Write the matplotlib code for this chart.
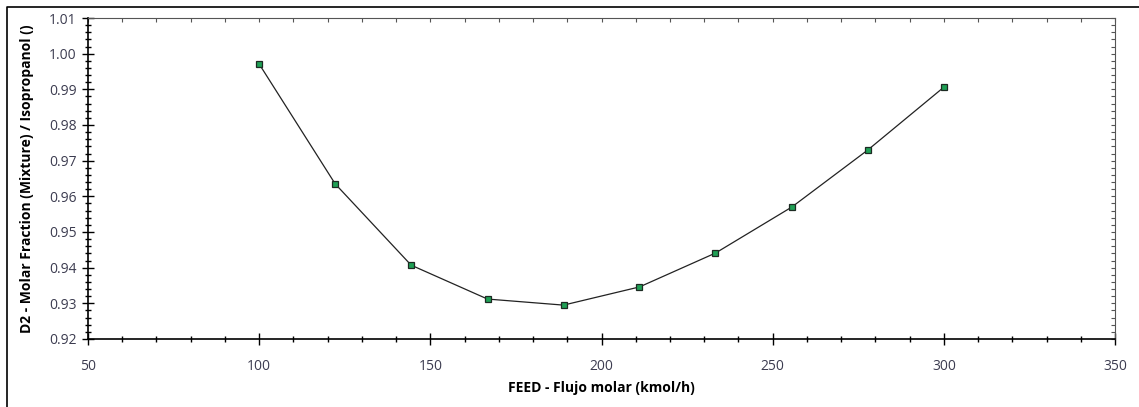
import matplotlib
matplotlib.use('Agg')
import matplotlib.pyplot as plt
from matplotlib.ticker import MultipleLocator
from matplotlib.lines import Line2D

# data
feed_flow = [100.0, 122.2, 144.4, 166.7, 188.9, 211.1, 233.3, 255.6, 277.8, 300.0]
d2_isopropanol = [0.9971, 0.9635, 0.9407, 0.9312, 0.9295, 0.9346, 0.9441, 0.9570, 0.9730, 0.9906]

x_label = 'FEED - Flujo molar (kmol/h)'
y_label = 'D2 - Molar Fraction (Mixture) / Isopropanol ()'

plt.rcParams['font.family'] = ['Open Sans', 'DejaVu Sans']

fig = plt.figure(figsize=(11.39, 4.07), dpi=100)
ax = fig.add_axes([88 / 1139, 1 - 339 / 407, (1115 - 88) / 1139, (339 - 18) / 407])

# left and top edge of the plot window
fx, fy = 6.5 / 1139, 1 - 6.5 / 407
fig.add_artist(Line2D([fx, fx, 1], [0, fy, fy], transform=fig.transFigure,
                      color='black', linewidth=1.2))

ax.plot(feed_flow, d2_isopropanol, color='#222222', linewidth=0.9,
        marker='s', markersize=4.5, markerfacecolor='#1fa055',
        markeredgecolor='#1c2a22', markeredgewidth=0.9)

ax.set_xlim(50, 350)
ax.set_ylim(0.92, 1.01)
ax.xaxis.set_major_locator(MultipleLocator(50))
ax.xaxis.set_minor_locator(MultipleLocator(10))
ax.yaxis.set_major_locator(MultipleLocator(0.01))
ax.yaxis.set_minor_locator(MultipleLocator(0.002))
ax.yaxis.set_major_formatter(plt.FormatStrFormatter('%.2f'))

tick_color = '#3c3c50'
ax.tick_params(which='both', direction='inout', labelcolor=tick_color,
               labelsize=10, width=1.0)
ax.tick_params(which='major', length=9)
ax.tick_params(which='minor', length=5)
ax.tick_params(axis='x', which='major', pad=10)

ax.spines['left'].set_linewidth(1.2)
ax.spines['bottom'].set_linewidth(1.2)
for side in ['top', 'right']:
    ax.spines[side].set_linewidth(0.8)
    ax.spines[side].set_color('#555555')

# small inward ticks on the top and right edges
top = ax.secondary_xaxis('top')
top.xaxis.set_major_locator(MultipleLocator(10))
top.tick_params(direction='in', length=3, width=0.8, color='#555555', labeltop=False)
top.spines['top'].set_visible(False)
right = ax.secondary_yaxis('right')
right.yaxis.set_major_locator(MultipleLocator(0.002))
right.tick_params(direction='in', length=3, width=0.8, color='#555555', labelright=False)
right.spines['right'].set_visible(False)

ax.set_xlabel(x_label, fontsize=10, fontweight='bold', labelpad=5)
ax.set_ylabel(y_label, fontsize=10, fontweight='bold', labelpad=11)

fig.savefig('out.png', dpi=100)
